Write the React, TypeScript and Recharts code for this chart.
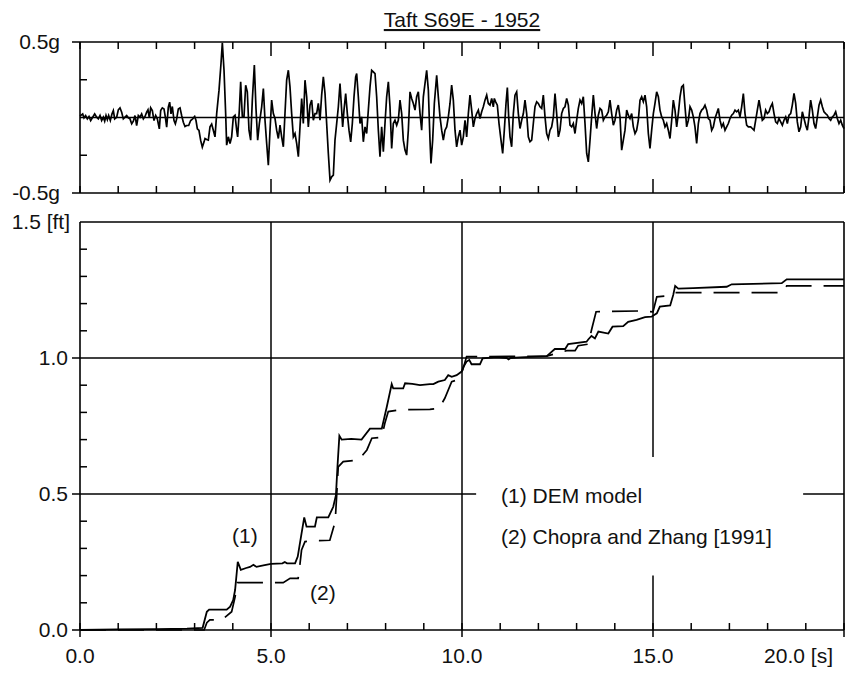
import React from 'react';
import { LineChart, Line, XAxis, YAxis, ReferenceLine } from 'recharts';

// ---------- data ----------
const FONT = '"Liberation Sans", Arial, Helvetica, sans-serif';

const chartTitle = 'Taft S69E - 1952';

// Ground acceleration record, [time s, acceleration g]
const taftRecord: [number, number][] = [
  [0.0, 0.01], [0.017, 0.013], [0.07, 0.024], [0.105, -0.002], [0.148, 0.013], [0.192, -0.009],
  [0.236, 0.007], [0.279, -0.02], [0.332, 0.002], [0.384, 0.024], [0.436, 0.002], [0.48, -0.009],
  [0.524, 0.013], [0.567, -0.02], [0.611, 0.002], [0.646, -0.024], [0.681, 0.013], [0.716, -0.015],
  [0.75, 0.013], [0.794, -0.02], [0.838, 0.024], [0.873, 0.046], [0.908, -0.009], [0.96, 0.002],
  [1.003, 0.051], [1.047, 0.064], [1.091, 0.035], [1.134, -0.009], [1.178, 0.002], [1.222, 0.013],
  [1.265, -0.002], [1.309, -0.009], [1.353, -0.042], [1.396, -0.024], [1.44, 0.013], [1.483, -0.053],
  [1.527, 0.013], [1.571, 0.002], [1.614, 0.024], [1.658, -0.009], [1.702, 0.007], [1.745, 0.035],
  [1.78, 0.051], [1.815, -0.002], [1.85, 0.064], [1.894, 0.046], [1.937, -0.02], [1.981, 0.013],
  [2.024, -0.009], [2.077, -0.075], [2.112, 0.046], [2.155, 0.064], [2.199, 0.057], [2.234, 0.002],
  [2.269, -0.064], [2.312, 0.068], [2.347, 0.102], [2.382, 0.024], [2.417, 0.073], [2.461, -0.02],
  [2.496, -0.042], [2.531, -0.009], [2.574, 0.057], [2.618, 0.064], [2.661, 0.013], [2.705, -0.031],
  [2.749, -0.06], [2.792, -0.053], [2.845, -0.053], [2.897, -0.02], [2.949, -0.009], [3.002, 0.007],
  [3.037, -0.02], [3.072, -0.075], [3.115, -0.086], [3.159, -0.152], [3.202, -0.196], [3.246, -0.163],
  [3.272, -0.139], [3.316, -0.146], [3.359, -0.15], [3.403, -0.062], [3.447, -0.044], [3.49, -0.084],
  [3.534, -0.128], [3.578, 0.026], [3.639, 0.181], [3.691, 0.358], [3.726, 0.494], [3.77, 0.313],
  [3.813, 0.026], [3.839, -0.183], [3.883, -0.128], [3.927, -0.172], [3.97, -0.128], [4.014, 0.004],
  [4.058, 0.015], [4.101, -0.084], [4.127, -0.128], [4.171, 0.049], [4.206, 0.236], [4.25, 0.004],
  [4.293, 0.004], [4.337, 0.214], [4.38, 0.17], [4.424, -0.084], [4.468, -0.15], [4.511, 0.115],
  [4.564, 0.347], [4.607, 0.06], [4.651, -0.15], [4.695, -0.04], [4.756, 0.071], [4.8, 0.192],
  [4.843, -0.018], [4.887, -0.172], [4.93, -0.316], [4.974, -0.084], [5.017, 0.115], [5.061, 0.026],
  [5.105, -0.007], [5.148, -0.084], [5.192, -0.139], [5.236, -0.051], [5.279, -0.128], [5.323, -0.194],
  [5.366, 0.026], [5.41, 0.247], [5.454, 0.313], [5.497, 0.203], [5.541, 0.026], [5.585, -0.128],
  [5.628, -0.106], [5.672, -0.172], [5.716, -0.26], [5.759, -0.062], [5.803, 0.126], [5.846, -0.04],
  [5.89, 0.247], [5.934, 0.137], [5.977, -0.062], [6.021, 0.082], [6.065, 0.115], [6.108, -0.018],
  [6.152, 0.026], [6.195, 0.026], [6.239, 0.093], [6.283, -0.018], [6.326, 0.148], [6.37, 0.269],
  [6.414, 0.159], [6.457, -0.04], [6.501, -0.238], [6.545, -0.415], [6.588, -0.393], [6.632, -0.382],
  [6.675, -0.15], [6.719, -0.04], [6.763, 0.071], [6.806, 0.225], [6.85, 0.049], [6.876, -0.062],
  [6.911, 0.049], [6.955, 0.159], [6.998, 0.026], [7.042, -0.084], [7.086, -0.161], [7.129, -0.04],
  [7.173, 0.137], [7.216, 0.269], [7.243, 0.291], [7.286, 0.137], [7.33, -0.04], [7.373, 0.004],
  [7.417, -0.161], [7.461, -0.062], [7.504, -0.106], [7.548, 0.049], [7.592, 0.203], [7.635, 0.313],
  [7.679, 0.302], [7.723, 0.291], [7.766, 0.137], [7.81, -0.084], [7.853, -0.26], [7.897, -0.062],
  [7.941, -0.227], [7.984, -0.04], [8.028, 0.137], [8.072, 0.236], [8.115, 0.071], [8.159, -0.205],
  [8.202, -0.04], [8.246, -0.018], [8.29, -0.051], [8.333, -0.018], [8.377, 0.115], [8.421, 0.026],
  [8.464, -0.15], [8.508, -0.216], [8.551, -0.249], [8.595, -0.084], [8.639, 0.17], [8.682, 0.126],
  [8.726, 0.093], [8.77, 0.049], [8.813, 0.137], [8.857, 0.17], [8.901, 0.026], [8.944, -0.084],
  [8.988, 0.137], [9.031, 0.225], [9.075, 0.313], [9.119, 0.181], [9.162, -0.15], [9.188, -0.305],
  [9.232, -0.15], [9.276, 0.093], [9.337, 0.28], [9.38, 0.137], [9.424, 0.004], [9.468, -0.084],
  [9.511, -0.15], [9.555, -0.084], [9.599, -0.062], [9.642, 0.004], [9.686, 0.093], [9.729, 0.214],
  [9.773, 0.115], [9.817, -0.084], [9.86, -0.194], [9.904, -0.128], [9.948, -0.084], [9.991, -0.183],
  [10.035, -0.128], [10.079, -0.018], [10.122, -0.128], [10.166, 0.026], [10.209, 0.148], [10.253, 0.049],
  [10.297, -0.062], [10.34, -0.007], [10.384, 0.026], [10.428, 0.049], [10.471, -0.007], [10.515, 0.038],
  [10.558, 0.071], [10.602, 0.115], [10.646, 0.148], [10.689, 0.093], [10.733, 0.082], [10.777, 0.126],
  [10.82, 0.071], [10.846, 0.126], [10.881, 0.104], [10.925, 0.082], [10.969, -0.04], [11.021, -0.15],
  [11.065, -0.238], [11.108, -0.084], [11.152, 0.093], [11.187, 0.199], [11.222, 0.004], [11.257, -0.128],
  [11.3, -0.194], [11.344, 0.026], [11.387, 0.148], [11.431, 0.17], [11.475, 0.026], [11.518, -0.073],
  [11.562, -0.018], [11.606, 0.026], [11.649, 0.115], [11.693, 0.026], [11.736, -0.128], [11.78, -0.161],
  [11.824, -0.15], [11.867, -0.04], [11.911, 0.071], [11.955, 0.104], [11.998, 0.093], [12.042, 0.071],
  [12.086, 0.06], [12.129, 0.148], [12.173, 0.004], [12.216, -0.106], [12.26, -0.139], [12.304, -0.084],
  [12.347, -0.062], [12.391, 0.004], [12.435, 0.159], [12.478, 0.026], [12.522, -0.128], [12.565, -0.084],
  [12.609, 0.026], [12.653, 0.06], [12.696, 0.071], [12.74, 0.126], [12.784, 0.082], [12.827, -0.051],
  [12.871, -0.062], [12.914, -0.04], [12.958, -0.106], [13.002, -0.018], [13.045, 0.06], [13.089, 0.115],
  [13.133, 0.093], [13.176, 0.137], [13.22, -0.04], [13.264, -0.238], [13.307, -0.294], [13.351, -0.15],
  [13.394, 0.004], [13.438, 0.148], [13.482, 0.026], [13.525, -0.073], [13.569, 0.015], [13.613, 0.06],
  [13.656, 0.049], [13.7, -0.018], [13.743, 0.004], [13.787, 0.015], [13.831, 0.038], [13.874, 0.115],
  [13.918, 0.026], [13.962, -0.051], [14.005, -0.018], [14.049, 0.049], [14.092, 0.082], [14.136, 0.004],
  [14.18, -0.216], [14.223, -0.15], [14.267, -0.084], [14.311, 0.049], [14.354, 0.015], [14.398, -0.007],
  [14.442, 0.026], [14.485, -0.062], [14.529, -0.106], [14.572, -0.084], [14.616, -0.018], [14.66, 0.115],
  [14.703, 0.137], [14.747, 0.104], [14.791, 0.148], [14.834, 0.071], [14.878, -0.106], [14.921, -0.205],
  [14.965, -0.084], [15.009, 0.026], [15.052, 0.093], [15.096, 0.17], [15.14, 0.137], [15.183, 0.049],
  [15.227, 0.004], [15.271, -0.018], [15.314, -0.062], [15.358, -0.04], [15.401, -0.084], [15.445, -0.139],
  [15.489, -0.018], [15.532, 0.115], [15.576, 0.049], [15.62, -0.062], [15.663, 0.026], [15.707, 0.137],
  [15.75, 0.203], [15.794, 0.214], [15.838, 0.071], [15.881, -0.062], [15.925, -0.018], [15.969, 0.071],
  [16.012, 0.049], [16.056, 0.004], [16.099, -0.062], [16.143, -0.172], [16.187, -0.04], [16.23, 0.026],
  [16.274, 0.049], [16.318, 0.06], [16.361, 0.082], [16.405, 0.049], [16.449, -0.007], [16.492, -0.018],
  [16.536, -0.084], [16.579, -0.062], [16.623, -0.007], [16.667, 0.026], [16.71, 0.06], [16.754, -0.018],
  [16.798, -0.062], [16.841, -0.04], [16.885, -0.084], [16.928, -0.062], [16.972, -0.04], [17.016, -0.007],
  [17.059, 0.015], [17.103, 0.026], [17.147, 0.049], [17.19, 0.038], [17.234, 0.049], [17.277, 0.004],
  [17.321, 0.071], [17.365, 0.159], [17.408, 0.026], [17.452, -0.051], [17.496, -0.062], [17.557, -0.062],
  [17.6, -0.073], [17.644, -0.084], [17.688, -0.018], [17.731, 0.049], [17.775, 0.115], [17.818, 0.049],
  [17.862, -0.018], [17.906, -0.007], [17.949, 0.049], [17.993, 0.026], [18.037, 0.038], [18.08, 0.071],
  [18.124, 0.093], [18.168, 0.026], [18.211, -0.029], [18.255, -0.04], [18.298, -0.007], [18.342, -0.029],
  [18.386, -0.051], [18.429, -0.018], [18.473, 0.004], [18.517, -0.04], [18.56, 0.015], [18.604, 0.026],
  [18.647, 0.082], [18.691, 0.159], [18.735, 0.093], [18.778, -0.029], [18.822, -0.095], [18.866, -0.062],
  [18.909, 0.038], [18.953, -0.007], [18.997, -0.051], [19.04, -0.084], [19.084, 0.004], [19.127, 0.115],
  [19.171, 0.049], [19.215, -0.04], [19.258, -0.073], [19.302, 0.004], [19.346, 0.082], [19.389, 0.115],
  [19.433, 0.071], [19.476, 0.038], [19.52, 0.026], [19.564, 0.015], [19.607, -0.007], [19.651, -0.018],
  [19.695, 0.004], [19.738, 0.015], [19.782, 0.038], [19.825, -0.007], [19.869, -0.04], [19.913, -0.018],
  [19.956, -0.051], [20.0, -0.073],
];

// (1) DEM model, cumulative sliding displacement [time s, ft]
const demModel: [number, number][] = [
  [0, 0], [1.0, 0.002], [2.0, 0.003], [2.8, 0.005], [3.21, 0.008], [3.32, 0.067], [3.38, 0.075],
  [3.84, 0.075], [3.93, 0.086], [4.01, 0.11], [4.06, 0.147], [4.13, 0.251], [4.21, 0.221], [4.35, 0.228],
  [4.45, 0.232], [4.54, 0.24], [4.62, 0.232], [4.8, 0.238], [5.0, 0.243], [5.3, 0.245], [5.36, 0.25],
  [5.42, 0.245], [5.63, 0.245], [5.7, 0.27], [5.8, 0.355], [5.87, 0.414], [5.93, 0.38], [6.15, 0.38],
  [6.2, 0.414], [6.5, 0.414], [6.63, 0.453], [6.7, 0.496], [6.74, 0.6], [6.79, 0.714], [6.85, 0.7],
  [7.1, 0.703], [7.37, 0.7], [7.59, 0.74], [7.9, 0.74], [8.03, 0.82], [8.16, 0.904], [8.2, 0.888],
  [8.46, 0.888], [8.51, 0.907], [8.7, 0.905], [8.9, 0.9], [9.16, 0.904], [9.25, 0.904], [9.38, 0.913],
  [9.55, 0.919], [9.64, 0.937], [9.73, 0.931], [9.86, 0.937], [9.99, 0.95], [10.04, 0.968],
  [10.12, 0.987], [10.19, 0.993], [10.25, 0.977], [10.47, 0.977], [10.54, 0.999], [10.91, 1.003],
  [11.17, 1.0], [11.22, 0.995], [11.27, 1.0], [11.52, 1.002], [12.22, 1.007], [12.3, 1.017],
  [12.43, 1.033], [12.7, 1.033], [12.78, 1.051], [13.26, 1.06], [13.31, 1.069], [13.39, 1.081],
  [13.48, 1.072], [13.57, 1.097], [13.83, 1.09], [13.94, 1.115], [14.22, 1.117], [14.35, 1.133],
  [14.57, 1.14], [14.79, 1.15], [14.96, 1.152], [15.1, 1.164], [15.18, 1.189], [15.45, 1.193],
  [15.53, 1.232], [15.58, 1.265], [15.66, 1.255], [16.05, 1.257], [16.93, 1.262], [17.06, 1.271],
  [18.37, 1.275], [18.5, 1.289], [20.0, 1.289],
];

// (2) Chopra and Zhang [1991]
const chopraZhang: [number, number][] = [
  [0, 0], [3.25, 0], [3.32, 0.027], [3.4, 0.037], [3.71, 0.037], [3.97, 0.067], [4.06, 0.122],
  [4.12, 0.174], [5.32, 0.174], [5.5, 0.19], [5.71, 0.19], [5.73, 0.207], [5.8, 0.294], [5.89, 0.325],
  [6.07, 0.328], [6.54, 0.33], [6.68, 0.398], [6.72, 0.496], [6.76, 0.6], [6.89, 0.619], [7.29, 0.625],
  [7.51, 0.662], [7.64, 0.705], [7.9, 0.709], [7.98, 0.76], [8.07, 0.803], [8.38, 0.81], [9.16, 0.811],
  [9.4, 0.815], [9.55, 0.852], [9.73, 0.913], [9.86, 0.919], [10.02, 0.956], [10.12, 1.005],
  [12.22, 1.007], [12.74, 1.027], [12.96, 1.027], [13.04, 1.045], [13.31, 1.051], [13.39, 1.103],
  [13.51, 1.17], [14.66, 1.173], [15.0, 1.17], [15.1, 1.225], [15.36, 1.228], [15.53, 1.24],
  [18.4, 1.24], [18.5, 1.265], [20.0, 1.265],
];

const timeTicks = [0, 1, 2, 3, 4, 5, 6, 7, 8, 9, 10, 11, 12, 13, 14, 15, 16, 17, 18, 19, 20];
const timeGrid = [5, 10, 15];
const timeLabels: Record<number, string> = { 0: '0.0', 5: '5.0', 10: '10.0', 15: '15.0', 20: '20.0 [s]' };

const accelTicks = [-0.5, -0.25, 0, 0.25, 0.5];
const accelLabels: Record<string, string> = { '0.5': '0.5g', '-0.5': '-0.5g' };

const dispTicks = [0, 0.1, 0.2, 0.3, 0.4, 0.5, 0.6, 0.7, 0.8, 0.9, 1.0, 1.1, 1.2, 1.3, 1.4, 1.5];
const dispLabels: Record<string, string> = { '0': '0.0', '0.5': '0.5', '1': '1.0', '1.5': '1.5 [ft]' };

const legendItems = ['(1) DEM model', '(2) Chopra and Zhang [1991]'];

// ---------- derived tables ----------
const accelData = taftRecord.map(([t, a]) => ({ t, a }));
const demData = demModel.map(([t, d]) => ({ t, d }));
const chopraData = chopraZhang.map(([t, d]) => ({ t, d }));

// ---------- styling ----------
const INK = '#000';
const RULE = 1.5;
const textStyle = { fontFamily: FONT, fontSize: 21, fill: '#111' };
const key = (v: number) => String(Math.round(v * 100) / 100);

// ---------- tick renderers ----------
const AccelBottomTick = ({ x, y, payload }: any) => {
  const len = timeGrid.includes(payload.value) ? 14 : 7;
  return <line x1={x} x2={x} y1={y} y2={y - len} stroke={INK} strokeWidth={RULE} />;
};
const AccelTopTick = ({ x, y, payload }: any) => {
  const len = timeGrid.includes(payload.value) ? 14 : 7;
  return <line x1={x} x2={x} y1={y} y2={y + len} stroke={INK} strokeWidth={RULE} />;
};
const AccelLeftTick = ({ x, y, payload }: any) => {
  const label = accelLabels[key(payload.value)];
  if (payload.value === 0) return <g />;
  if (label) {
    return (
      <g>
        <line x1={x - 8} x2={x} y1={y} y2={y} stroke={INK} strokeWidth={RULE} />
        <text x={x - 20} y={y + 7} textAnchor="end" style={textStyle}>{label}</text>
      </g>
    );
  }
  return <line x1={x} x2={x + 7} y1={y} y2={y} stroke={INK} strokeWidth={RULE} />;
};
const AccelRightTick = ({ x, y, payload }: any) => {
  if (Math.abs(payload.value) !== 0.25) return <g />;
  return <line x1={x} x2={x - 7} y1={y} y2={y} stroke={INK} strokeWidth={RULE} />;
};

const DispBottomTick = ({ x, y, payload }: any) => {
  const v = payload.value;
  const label = timeLabels[v];
  return (
    <g>
      <line x1={x} x2={x} y1={y} y2={y - 7} stroke={INK} strokeWidth={RULE} />
      {label && <line x1={x} x2={x} y1={y} y2={y + 7} stroke={INK} strokeWidth={RULE} />}
      {label && (
        <text x={v === 20 ? x - 11 : x} y={y + 33} textAnchor={v === 20 ? 'end' : 'middle'} style={textStyle}>
          {label}
        </text>
      )}
    </g>
  );
};
const DispTopTick = ({ x, y }: any) => (
  <g>
    <line x1={x} x2={x} y1={y} y2={y + 7} stroke={INK} strokeWidth={RULE} />
    <rect x={x - 0.8} y={y - 0.8} width={1.6} height={1.6} fill="#e00" />
  </g>
);
const DispLeftTick = ({ x, y, payload }: any) => {
  const k = key(payload.value);
  const label = dispLabels[k];
  if (label) {
    return (
      <g>
        {k !== '1.5' && <line x1={x - 8} x2={x} y1={y} y2={y} stroke={INK} strokeWidth={RULE} />}
        <text x={k === '1.5' ? x - 10 : x - 12} y={y + 7} textAnchor="end" style={textStyle}>{label}</text>
      </g>
    );
  }
  return <line x1={x} x2={x + 7} y1={y} y2={y} stroke={INK} strokeWidth={RULE} />;
};
const DispRightTick = ({ x, y, payload }: any) => {
  const k = key(payload.value);
  if (dispLabels[k]) {
    return <rect x={x - 0.8} y={y - 0.8} width={1.6} height={1.6} fill="#e00" />;
  }
  return <line x1={x} x2={x - 7} y1={y} y2={y} stroke={INK} strokeWidth={RULE} />;
};

const axisLine = { stroke: INK, strokeWidth: 1.6 };

export default function App() {
  return (
    <div style={{ position: 'absolute', left: 0, top: 0, width: 847, height: 673, background: '#fff' }}>
      {/* acceleration record */}
      <div style={{ position: 'absolute', left: 0, top: 0 }}>
        <LineChart width={847} height={215} data={accelData} margin={{ top: 0, right: 0, bottom: 0, left: 0 }}>
          <XAxis xAxisId="b" dataKey="t" type="number" domain={[0, 20]} ticks={timeTicks} interval={0}
            orientation="bottom" height={22} tickSize={0} tickMargin={0} axisLine={axisLine} tick={AccelBottomTick} />
          <XAxis xAxisId="t" dataKey="t" type="number" domain={[0, 20]} ticks={timeTicks} interval={0}
            orientation="top" height={42} tickSize={0} tickMargin={0} axisLine={axisLine} tick={AccelTopTick} />
          <YAxis yAxisId="l" type="number" domain={[-0.5, 0.5]} ticks={accelTicks} interval={0}
            orientation="left" width={80} tickSize={0} tickMargin={0} axisLine={axisLine} tick={AccelLeftTick} />
          <YAxis yAxisId="r" type="number" domain={[-0.5, 0.5]} ticks={accelTicks} interval={0}
            orientation="right" width={3} tickSize={0} tickMargin={0} axisLine={axisLine} tick={AccelRightTick} />
          <ReferenceLine xAxisId="b" yAxisId="l" y={0} stroke={INK} strokeWidth={RULE} />
          <Line xAxisId="b" yAxisId="l" dataKey="a" type="linear" stroke={INK} strokeWidth={1.7}
            dot={false} isAnimationActive={false} />
        </LineChart>
      </div>

      {/* cumulative displacement */}
      <div style={{ position: 'absolute', left: 0, top: 200 }}>
        <LineChart width={847} height={473} margin={{ top: 0, right: 0, bottom: 0, left: 0 }}>
          <XAxis xAxisId="b" dataKey="t" type="number" domain={[0, 20]} ticks={timeTicks} interval={0}
            orientation="bottom" height={43} tickSize={0} tickMargin={0} axisLine={axisLine} tick={DispBottomTick} />
          <XAxis xAxisId="t" dataKey="t" type="number" domain={[0, 20]} ticks={timeTicks} interval={0}
            orientation="top" height={22} tickSize={0} tickMargin={0} axisLine={axisLine} tick={DispTopTick} />
          <YAxis yAxisId="l" type="number" domain={[0, 1.5]} ticks={dispTicks} interval={0}
            orientation="left" width={80} tickSize={0} tickMargin={0} axisLine={axisLine} tick={DispLeftTick} />
          <YAxis yAxisId="r" type="number" domain={[0, 1.5]} ticks={dispTicks} interval={0}
            orientation="right" width={3} tickSize={0} tickMargin={0} axisLine={axisLine} tick={DispRightTick} />

          {/* grid, with the legend block left clear */}
          <ReferenceLine xAxisId="b" yAxisId="l" x={5} stroke={INK} strokeWidth={RULE} />
          <ReferenceLine xAxisId="b" yAxisId="l" x={10} stroke={INK} strokeWidth={RULE} />
          <ReferenceLine xAxisId="b" yAxisId="l" segment={[{ x: 15, y: 0 }, { x: 15, y: 0.2 }]} stroke={INK} strokeWidth={RULE} />
          <ReferenceLine xAxisId="b" yAxisId="l" segment={[{ x: 15, y: 0.636 }, { x: 15, y: 1.5 }]} stroke={INK} strokeWidth={RULE} />
          <ReferenceLine xAxisId="b" yAxisId="l" y={1.0} stroke={INK} strokeWidth={RULE} />
          <ReferenceLine xAxisId="b" yAxisId="l" segment={[{ x: 0, y: 0.5 }, { x: 10.37, y: 0.5 }]} stroke={INK} strokeWidth={RULE} />
          <ReferenceLine xAxisId="b" yAxisId="l" segment={[{ x: 18.93, y: 0.5 }, { x: 20, y: 0.5 }]} stroke={INK} strokeWidth={RULE} />

          <Line xAxisId="b" yAxisId="l" data={chopraData} dataKey="d" type="linear" stroke={INK}
            strokeWidth={1.7} strokeDasharray="26 12" dot={false} isAnimationActive={false} />
          <Line xAxisId="b" yAxisId="l" data={demData} dataKey="d" type="linear" stroke={INK}
            strokeWidth={1.8} dot={false} isAnimationActive={false} />
        </LineChart>
      </div>

      {/* title, curve tags and legend text */}
      <svg width={847} height={673} style={{ position: 'absolute', left: 0, top: 0, pointerEvents: 'none' }}>
        <text x={462} y={27} textAnchor="middle" style={{ ...textStyle, textDecoration: 'underline' }}>{chartTitle}</text>
        <text x={232} y={543} style={textStyle}>(1)</text>
        <text x={310} y={600} style={textStyle}>(2)</text>
        <text x={501} y={503} style={textStyle}>{legendItems[0]}</text>
        <text x={501} y={544} style={textStyle}>{legendItems[1]}</text>
      </svg>
    </div>
  );
}
